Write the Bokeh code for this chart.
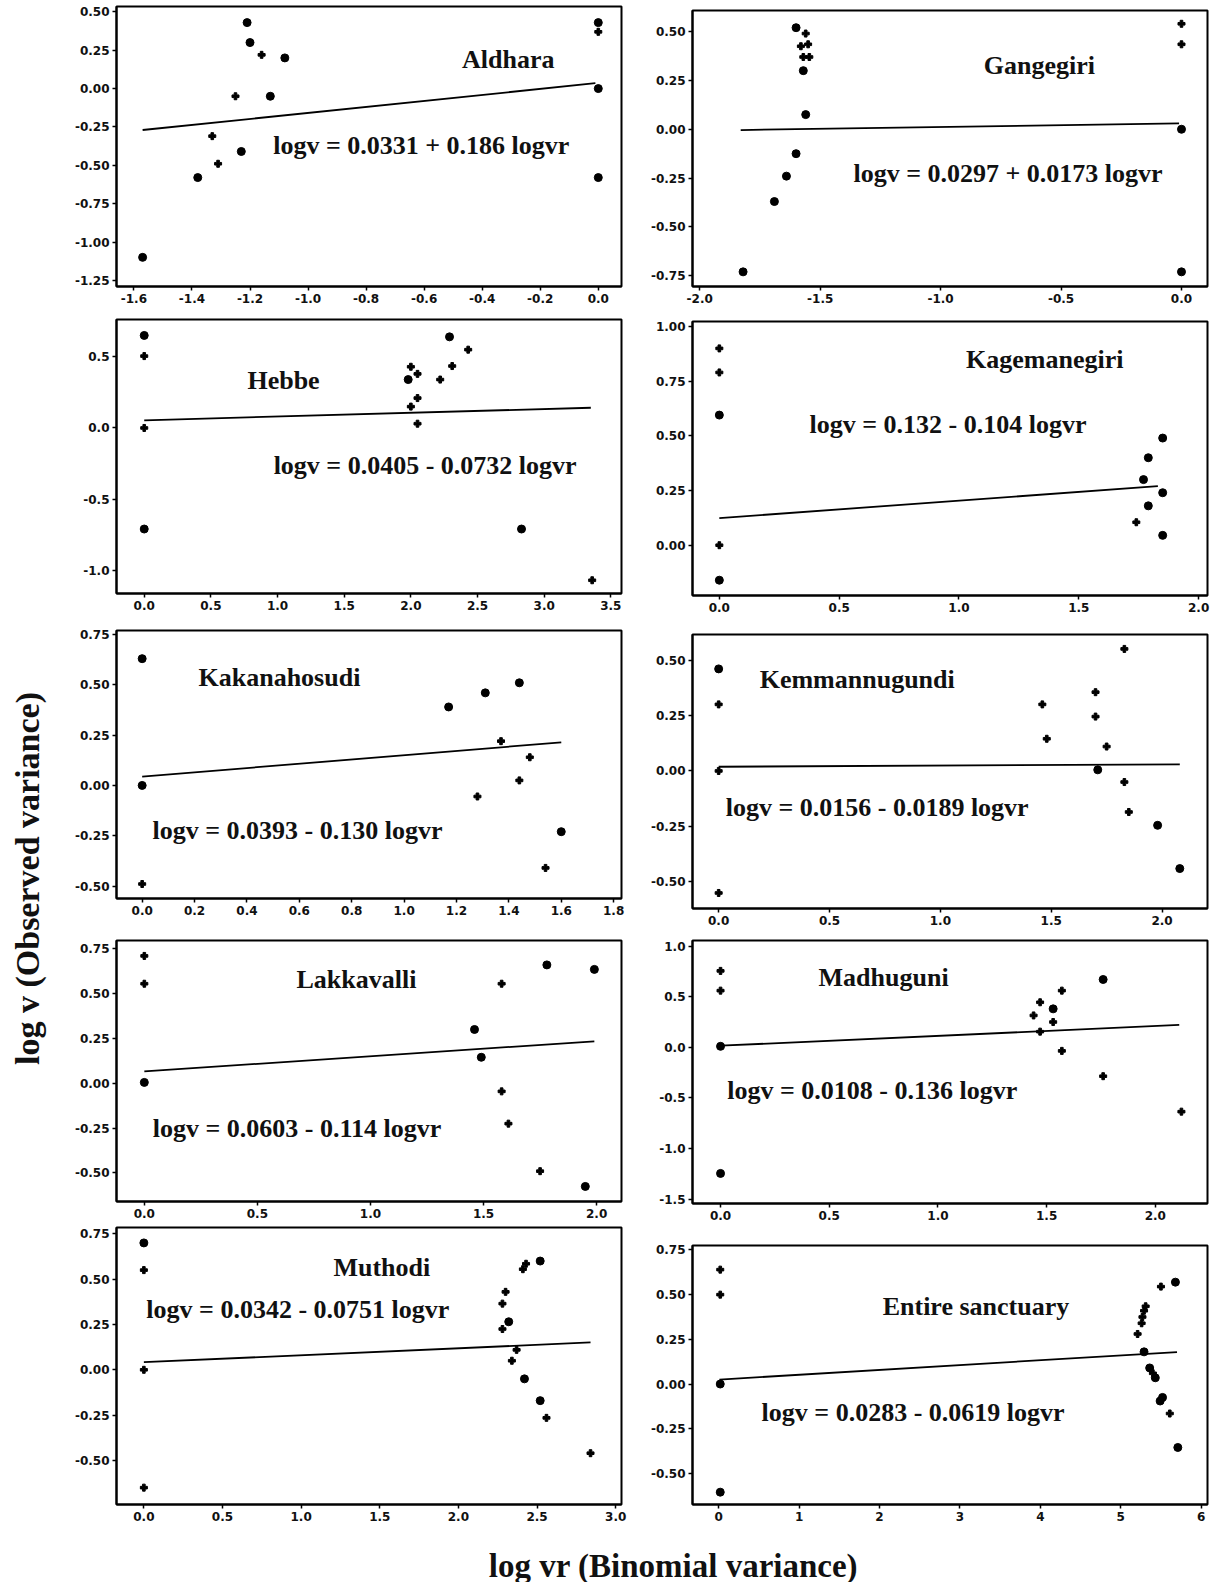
import math
from bokeh.plotting import figure
from bokeh.layouts import column, row
from bokeh.models import FixedTicker, PrintfTickFormatter, Label, Range1d
from bokeh.embed import file_html
from bokeh.resources import INLINE

# ---------------- data ----------------
# Aldhara
ALD_BIG_X = [-1.21, -1.20, -1.08, -1.13, -1.23, -1.38, -1.57, 0.0, 0.0, 0.0]
ALD_BIG_Y = [0.43, 0.30, 0.20, -0.05, -0.41, -0.58, -1.10, 0.43, 0.0, -0.58]
ALD_SMALL_X = [-1.16, -1.25, -1.33, -1.31, 0.0]
ALD_SMALL_Y = [0.22, -0.05, -0.31, -0.49, 0.37]
ALD_FIT_X = [-1.57, -0.01]
ALD_FIT_Y = [-0.27, 0.035]
ALD_XTICKS = [-1.6, -1.4, -1.2, -1.0, -0.8, -0.6, -0.4, -0.2, 0.0]
ALD_YTICKS = [-1.25, -1.0, -0.75, -0.5, -0.25, 0.0, 0.25, 0.5]

# Gangegiri
GAN_BIG_X = [-1.60, -1.57, -1.56, -1.60, -1.64, -1.69, -1.82, 0.0, 0.0]
GAN_BIG_Y = [0.52, 0.30, 0.075, -0.125, -0.24, -0.37, -0.73, 0.0, -0.73]
GAN_SMALL_X = [-1.56, -1.58, -1.55, -1.57, -1.545, 0.0, 0.0]
GAN_SMALL_Y = [0.49, 0.425, 0.435, 0.37, 0.37, 0.54, 0.435]
GAN_FIT_X = [-1.83, -0.01]
GAN_FIT_Y = [-0.004, 0.03]
GAN_XTICKS = [-2.0, -1.5, -1.0, -0.5, 0.0]
GAN_YTICKS = [-0.75, -0.5, -0.25, 0.0, 0.25, 0.5]

# Hebbe
HEB_BIG_X = [0.0, 0.0, 2.29, 1.98, 2.83]
HEB_BIG_Y = [0.65, -0.71, 0.64, 0.34, -0.71]
HEB_SMALL_X = [0.0, 0.0, 2.43, 2.0, 2.05, 2.22, 2.31, 2.05, 2.0, 2.05, 3.36]
HEB_SMALL_Y = [0.505, 0.0, 0.55, 0.43, 0.38, 0.34, 0.435, 0.21, 0.15, 0.03, -1.07]
HEB_FIT_X = [0.0, 3.35]
HEB_FIT_Y = [0.054, 0.142]
HEB_XTICKS = [0.0, 0.5, 1.0, 1.5, 2.0, 2.5, 3.0, 3.5]
HEB_YTICKS = [-1.0, -0.5, 0.0, 0.5]

# Kagemanegiri
KAG_BIG_X = [0.0, 0.0, 1.85, 1.79, 1.77, 1.85, 1.79, 1.85]
KAG_BIG_Y = [0.595, -0.16, 0.49, 0.40, 0.30, 0.24, 0.18, 0.045]
KAG_SMALL_X = [0.0, 0.0, 0.0, 1.74]
KAG_SMALL_Y = [0.90, 0.79, 0.0, 0.105]
KAG_FIT_X = [0.0, 1.83]
KAG_FIT_Y = [0.124, 0.27]
KAG_XTICKS = [0.0, 0.5, 1.0, 1.5, 2.0]
KAG_YTICKS = [0.0, 0.25, 0.5, 0.75, 1.0]

# Kakanahosudi
KAK_BIG_X = [0.0, 0.0, 1.17, 1.31, 1.44, 1.60]
KAK_BIG_Y = [0.63, 0.0, 0.39, 0.46, 0.51, -0.23]
KAK_SMALL_X = [0.0, 1.37, 1.48, 1.44, 1.28, 1.54]
KAK_SMALL_Y = [-0.49, 0.22, 0.14, 0.025, -0.055, -0.41]
KAK_FIT_X = [0.0, 1.60]
KAK_FIT_Y = [0.044, 0.214]
KAK_XTICKS = [0.0, 0.2, 0.4, 0.6, 0.8, 1.0, 1.2, 1.4, 1.6, 1.8]
KAK_YTICKS = [-0.5, -0.25, 0.0, 0.25, 0.5, 0.75]

# Kemmannugundi
KEM_BIG_X = [0.0, 1.71, 1.98, 2.08]
KEM_BIG_Y = [0.46, 0.005, -0.245, -0.44]
KEM_SMALL_X = [0.0, 0.0, 0.0, 1.46, 1.48, 1.70, 1.70, 1.75, 1.83, 1.83, 1.85]
KEM_SMALL_Y = [0.30, 0.0, -0.55, 0.30, 0.145, 0.355, 0.245, 0.11, 0.55, -0.05, -0.185]
KEM_FIT_X = [0.0, 2.08]
KEM_FIT_Y = [0.019, 0.03]
KEM_XTICKS = [0.0, 0.5, 1.0, 1.5, 2.0]
KEM_YTICKS = [-0.5, -0.25, 0.0, 0.25, 0.5]

# Lakkavalli
LAK_BIG_X = [0.0, 1.46, 1.49, 1.78, 1.99, 1.95]
LAK_BIG_Y = [0.005, 0.30, 0.145, 0.66, 0.635, -0.575]
LAK_SMALL_X = [0.0, 0.0, 1.58, 1.58, 1.61, 1.75]
LAK_SMALL_Y = [0.71, 0.555, 0.555, -0.045, -0.225, -0.49]
LAK_FIT_X = [0.0, 1.99]
LAK_FIT_Y = [0.066, 0.234]
LAK_XTICKS = [0.0, 0.5, 1.0, 1.5, 2.0]
LAK_YTICKS = [-0.5, -0.25, 0.0, 0.25, 0.5, 0.75]

# Madhuguni
MAD_BIG_X = [0.0, 0.0, 1.53, 1.76]
MAD_BIG_Y = [0.01, -1.245, 0.38, 0.67]
MAD_SMALL_X = [0.0, 0.0, 1.44, 1.47, 1.47, 1.53, 1.57, 1.57, 1.76, 2.12]
MAD_SMALL_Y = [0.755, 0.56, 0.315, 0.445, 0.155, 0.25, 0.56, -0.035, -0.285, -0.635]
MAD_FIT_X = [0.0, 2.11]
MAD_FIT_Y = [0.016, 0.221]
MAD_XTICKS = [0.0, 0.5, 1.0, 1.5, 2.0]
MAD_YTICKS = [-1.5, -1.0, -0.5, 0.0, 0.5, 1.0]

# Muthodi
MUT_BIG_X = [0.0, 2.52, 2.32, 2.42, 2.52]
MUT_BIG_Y = [0.70, 0.60, 0.265, -0.05, -0.17]
MUT_SMALL_X = [0.0, 0.0, 0.0, 2.43, 2.41, 2.30, 2.28, 2.28, 2.37, 2.34, 2.56, 2.84]
MUT_SMALL_Y = [0.55, 0.0, -0.65, 0.585, 0.555, 0.43, 0.365, 0.225, 0.11, 0.05, -0.265, -0.46]
MUT_FIT_X = [0.0, 2.84]
MUT_FIT_Y = [0.042, 0.151]
MUT_XTICKS = [0.0, 0.5, 1.0, 1.5, 2.0, 2.5, 3.0]
MUT_YTICKS = [-0.5, -0.25, 0.0, 0.25, 0.5, 0.75]

# Entire sanctuary
ENT_BIG_X = [0.02, 0.02, 5.68, 5.29, 5.36, 5.43, 5.49, 5.52, 5.71]
ENT_BIG_Y = [0.0, -0.605, 0.57, 0.18, 0.09, 0.035, -0.095, -0.075, -0.355]
ENT_SMALL_X = [0.02, 0.02, 5.50, 5.31, 5.29, 5.27, 5.26, 5.21, 5.40, 5.61]
ENT_SMALL_Y = [0.64, 0.50, 0.545, 0.435, 0.41, 0.375, 0.34, 0.28, 0.06, -0.165]
ENT_FIT_X = [0.01, 5.70]
ENT_FIT_Y = [0.025, 0.179]
ENT_XTICKS = [0, 1, 2, 3, 4, 5, 6]
ENT_YTICKS = [-0.5, -0.25, 0.0, 0.25, 0.5, 0.75]

NAMES = ["Aldhara", "Gangegiri", "Hebbe", "Kagemanegiri", "Kakanahosudi",
         "Kemmannugundi", "Lakkavalli", "Madhuguni", "Muthodi", "Entire sanctuary"]
EQUATIONS = [
    "logv = 0.0331 + 0.186 logvr",
    "logv = 0.0297 + 0.0173 logvr",
    "logv = 0.0405 - 0.0732 logvr",
    "logv = 0.132 - 0.104 logvr",
    "logv = 0.0393 - 0.130 logvr",
    "logv = 0.0156 - 0.0189 logvr",
    "logv = 0.0603 - 0.114 logvr",
    "logv = 0.0108 - 0.136 logvr",
    "logv = 0.0342 - 0.0751 logvr",
    "logv = 0.0283 - 0.0619 logvr",
]
X_TITLE = "log vr (Binomial variance)"
Y_TITLE = "log v (Observed variance)"

# ---------------- layout / style config ----------------
SERIF = "Liberation Serif"
TICKFONT = "DejaVu Sans"
LW, RW = 568, 585          # column widths
LB = (56, 7)               # left column borders (left, right)
RB = (64, 6)               # right column borders

panels = [
    dict(big=(ALD_BIG_X, ALD_BIG_Y), small=(ALD_SMALL_X, ALD_SMALL_Y), fit=(ALD_FIT_X, ALD_FIT_Y),
         xt=ALD_XTICKS, yt=ALD_YTICKS, xf="%.1f", yf="%.2f",
         xr=(-1.66, 0.08), yr=(-1.29, 0.535), tpos=(-0.31, 0.19), epos=(-0.61, -0.37),
         h=312, tb=(6, 26)),
    dict(big=(GAN_BIG_X, GAN_BIG_Y), small=(GAN_SMALL_X, GAN_SMALL_Y), fit=(GAN_FIT_X, GAN_FIT_Y),
         xt=GAN_XTICKS, yt=GAN_YTICKS, xf="%.1f", yf="%.2f",
         xr=(-2.03, 0.108), yr=(-0.805, 0.608), tpos=(-0.59, 0.324), epos=(-0.72, -0.228),
         h=312, tb=(10, 26)),
    dict(big=(HEB_BIG_X, HEB_BIG_Y), small=(HEB_SMALL_X, HEB_SMALL_Y), fit=(HEB_FIT_X, HEB_FIT_Y),
         xt=HEB_XTICKS, yt=HEB_YTICKS, xf="%.1f", yf="%.1f",
         xr=(-0.208, 3.58), yr=(-1.163, 0.762), tpos=(1.045, 0.33), epos=(2.107, -0.267),
         h=310, tb=(7, 29)),
    dict(big=(KAG_BIG_X, KAG_BIG_Y), small=(KAG_SMALL_X, KAG_SMALL_Y), fit=(KAG_FIT_X, KAG_FIT_Y),
         xt=KAG_XTICKS, yt=KAG_YTICKS, xf="%.1f", yf="%.2f",
         xr=(-0.112, 2.037), yr=(-0.23, 1.023), tpos=(1.358, 0.848), epos=(0.954, 0.553),
         h=310, tb=(9, 27)),
    dict(big=(KAK_BIG_X, KAK_BIG_Y), small=(KAK_SMALL_X, KAK_SMALL_Y), fit=(KAK_FIT_X, KAK_FIT_Y),
         xt=KAK_XTICKS, yt=KAK_YTICKS, xf="%.1f", yf="%.2f",
         xr=(-0.098, 1.83), yr=(-0.562, 0.77), tpos=(0.524, 0.535), epos=(0.593, -0.222),
         h=304, tb=(8, 28)),
    dict(big=(KEM_BIG_X, KEM_BIG_Y), small=(KEM_SMALL_X, KEM_SMALL_Y), fit=(KEM_FIT_X, KEM_FIT_Y),
         xt=KEM_XTICKS, yt=KEM_YTICKS, xf="%.1f", yf="%.2f",
         xr=(-0.118, 2.205), yr=(-0.62, 0.615), tpos=(0.625, 0.41), epos=(0.715, -0.163),
         h=308, tb=(12, 22)),
    dict(big=(LAK_BIG_X, LAK_BIG_Y), small=(LAK_SMALL_X, LAK_SMALL_Y), fit=(LAK_FIT_X, LAK_FIT_Y),
         xt=LAK_XTICKS, yt=LAK_YTICKS, xf="%.1f", yf="%.2f",
         xr=(-0.123, 2.11), yr=(-0.659, 0.796), tpos=(0.938, 0.58), epos=(0.675, -0.253),
         h=296, tb=(14, 21)),
    dict(big=(MAD_BIG_X, MAD_BIG_Y), small=(MAD_SMALL_X, MAD_SMALL_Y), fit=(MAD_FIT_X, MAD_FIT_Y),
         xt=MAD_XTICKS, yt=MAD_YTICKS, xf="%.1f", yf="%.1f",
         xr=(-0.129, 2.24), yr=(-1.542, 1.055), tpos=(0.75, 0.688), epos=(0.698, -0.422),
         h=294, tb=(10, 21)),
    dict(big=(MUT_BIG_X, MUT_BIG_Y), small=(MUT_SMALL_X, MUT_SMALL_Y), fit=(MUT_FIT_X, MUT_FIT_Y),
         xt=MUT_XTICKS, yt=MUT_YTICKS, xf="%.1f", yf="%.2f",
         xr=(-0.174, 3.037), yr=(-0.743, 0.785), tpos=(1.513, 0.562), epos=(0.979, 0.33),
         h=308, tb=(5, 26)),
    dict(big=(ENT_BIG_X, ENT_BIG_Y), small=(ENT_SMALL_X, ENT_SMALL_Y), fit=(ENT_FIT_X, ENT_FIT_Y),
         xt=ENT_XTICKS, yt=ENT_YTICKS, xf="%d", yf="%.2f",
         xr=(-0.325, 6.079), yr=(-0.674, 0.775), tpos=(3.2, 0.431), epos=(2.418, -0.161),
         h=306, tb=(21, 26)),
]


def make_panel(cfg, name, eq, width, lr):
    bl, br = lr
    bt, bb = cfg["tb"]
    p = figure(width=width, height=cfg["h"], output_backend="svg", toolbar_location=None,
               x_range=Range1d(*cfg["xr"]), y_range=Range1d(*cfg["yr"]),
               min_border_left=bl, min_border_right=br, min_border_top=bt, min_border_bottom=bb,
               background_fill_color="white", border_fill_color="white")
    p.grid.visible = False
    p.outline_line_color = "black"
    p.outline_line_width = 2
    p.xaxis.ticker = FixedTicker(ticks=cfg["xt"], minor_ticks=[])
    p.yaxis.ticker = FixedTicker(ticks=cfg["yt"], minor_ticks=[])
    p.xaxis.formatter = PrintfTickFormatter(format=cfg["xf"])
    p.yaxis.formatter = PrintfTickFormatter(format=cfg["yf"])
    for ax in (p.xaxis, p.yaxis):
        ax.axis_line_color = "black"
        ax.axis_line_width = 2
        ax.major_tick_line_color = "black"
        ax.major_tick_line_width = 1.5
        ax.major_tick_in = 0
        ax.major_tick_out = 4
        ax.minor_tick_line_color = None
        ax.major_label_standoff = 3
        ax.major_label_text_font = TICKFONT
        ax.major_label_text_font_style = "bold"
        ax.major_label_text_font_size = "12px"
        ax.major_label_text_color = "#111111"

    fx, fy = cfg["fit"]
    p.line(fx, fy, line_color="black", line_width=1.8)
    bx, by = cfg["big"]
    p.scatter(bx, by, marker="circle", size=8, fill_color="black", line_color="black")
    sx, sy = cfg["small"]
    p.scatter(sx, sy, marker="plus", size=7, fill_color="black", line_color="black")

    tx, ty = cfg["tpos"]
    p.add_layout(Label(x=tx, y=ty, text=name, text_align="center", text_baseline="middle",
                       text_font=SERIF, text_font_style="bold", text_font_size="26px",
                       text_color="#111111"))
    ex, ey = cfg["epos"]
    p.add_layout(Label(x=ex, y=ey, text=eq, text_align="center", text_baseline="middle",
                       text_font=SERIF, text_font_style="bold", text_font_size="26px",
                       text_color="#111111"))
    return p


left_figs = [make_panel(panels[i], NAMES[i], EQUATIONS[i], LW, LB) for i in range(0, 10, 2)]
right_figs = [make_panel(panels[i], NAMES[i], EQUATIONS[i], RW, RB) for i in range(1, 10, 2)]
left_col = column(*left_figs)
right_col = column(*right_figs)
grid_h = sum(panels[i]["h"] for i in range(0, 10, 2))

ylab = figure(width=60, height=grid_h, output_backend="svg", toolbar_location=None,
              x_range=Range1d(0, 60), y_range=Range1d(0, grid_h),
              x_axis_location=None, y_axis_location=None, min_border=0,
              outline_line_color=None)
ylab.grid.visible = False
ylab.add_layout(Label(x=27, y=grid_h - 878, text=Y_TITLE, angle=math.pi / 2,
                      text_align="center", text_baseline="middle", text_font=SERIF,
                      text_font_style="bold", text_font_size="34px", text_color="#111111"))

XL_H = 52
xlab = figure(width=60 + LW + RW, height=XL_H, output_backend="svg", toolbar_location=None,
              x_range=Range1d(0, 60 + LW + RW), y_range=Range1d(0, XL_H),
              x_axis_location=None, y_axis_location=None, min_border=0,
              outline_line_color=None)
xlab.grid.visible = False
xlab.add_layout(Label(x=673, y=17, text=X_TITLE, text_align="center", text_baseline="middle",
                      text_font=SERIF, text_font_style="bold", text_font_size="33px",
                      text_color="#111111"))

layout = column(row(ylab, left_col, right_col), xlab)

with open("out.html", "w") as f:
    f.write(file_html(layout, INLINE))
